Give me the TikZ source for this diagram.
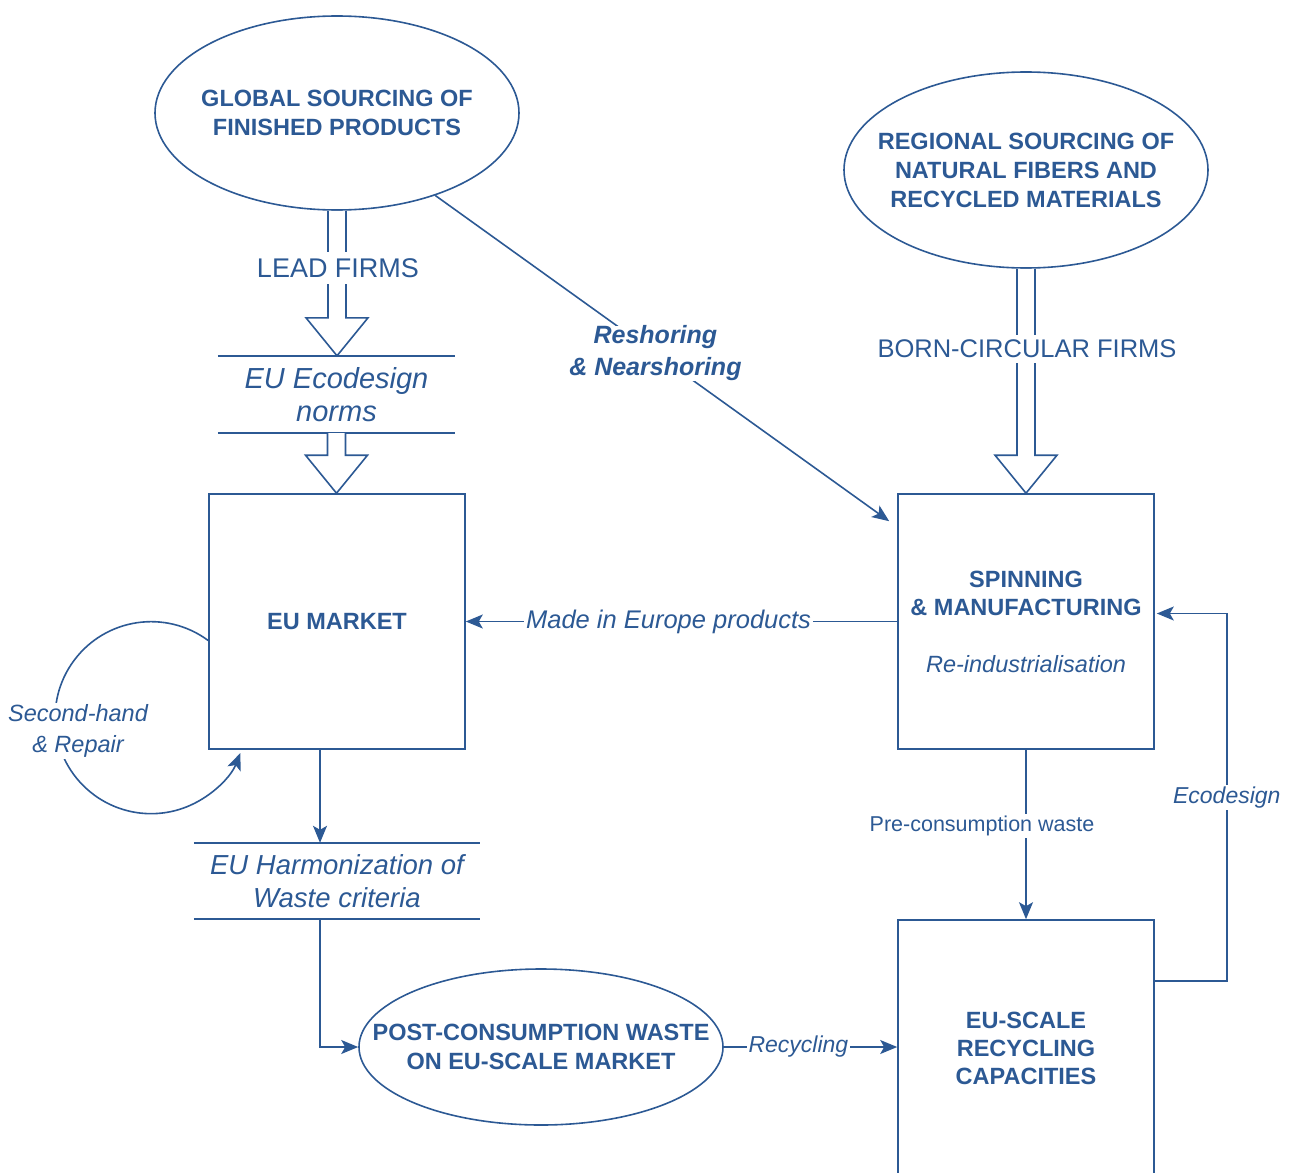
\documentclass[tikz,border=0pt]{standalone}
\usepackage{fontspec}
\setmainfont{Liberation Sans}
\usetikzlibrary{shapes.geometric,arrows.meta,calc}
\definecolor{dblue}{RGB}{44,89,148}
\newcommand\hollowarrow[2]{%
  \draw[hollow] let \p1=(#1), \p2=(#2) in
    (\x1-9pt,\y1) -- (\x1-9pt,\y2+38pt) -- (\x1-31pt,\y2+38pt) -- (\x1,\y2)
    -- (\x1+31pt,\y2+38pt) -- (\x1+9pt,\y2+38pt) -- (\x1+9pt,\y1);}
\begin{document}
\begin{tikzpicture}[x=1pt,y=-1pt,
  every node/.style={text=dblue},
  line/.style={draw=dblue,line width=1.6pt},
  arr/.style={line,-{Stealth[length=17pt,width=14pt,inset=4pt]}},
  ell/.style={line,ellipse,inner ysep=0pt,inner xsep=-80pt,align=center,font=\fontsize{23.5}{29}\selectfont\bfseries},
  box/.style={line,rectangle,inner sep=0pt,minimum width=256pt,minimum height=255pt,align=center,font=\fontsize{23.5}{28}\selectfont\bfseries},
  lbl/.style={fill=white,inner sep=2pt,align=center},
  band/.style={inner sep=0pt,align=center,font=\fontsize{29}{33}\selectfont\itshape},
  hollow/.style={line,fill=white,line join=miter}
]
\useasboundingbox (0,0) rectangle (1295,1172);

% nodes
\node[ell,minimum width=364pt,minimum height=194pt] (gs) at (337,113) {GLOBAL SOURCING OF\\FINISHED PRODUCTS};
\node[ell,minimum width=364pt,minimum height=196pt] (rs) at (1026,170) {REGIONAL SOURCING OF\\NATURAL FIBERS AND\\RECYCLED MATERIALS};
\node[band,minimum width=237pt,minimum height=77pt] (eco) at (336.5,394.5) {EU Ecodesign\\norms};
\draw[line] (eco.north west) -- (eco.north east) (eco.south west) -- (eco.south east);
\node[box] (mkt) at (337,621.5) {EU MARKET};
\node[box] (spin) at (1026,621.5) {SPINNING\\\& MANUFACTURING\\[29pt]{\mdseries\itshape Re-industrialisation}};
\node[band,font=\fontsize{27.5}{33}\selectfont\itshape,minimum width=286pt,minimum height=76pt] (harm) at (337,881) {EU Harmonization of\\Waste criteria};
\draw[line] (harm.north west) -- (harm.north east) (harm.south west) -- (harm.south east);
\node[ell,minimum width=364pt,minimum height=156pt] (post) at (541,1047) {POST-CONSUMPTION WASTE\\ON EU-SCALE MARKET};
\node[box,minimum height=256pt] (rec) at (1026,1048) {EU-SCALE\\RECYCLING\\CAPACITIES};

% hollow arrows
\hollowarrow{gs.south}{eco.north}
\hollowarrow{eco.south}{mkt.north}
\hollowarrow{rs.south}{spin.north}
\node[lbl,inner ysep=6pt,font=\fontsize{27}{32}\selectfont] (lead) at (338,268) {LEAD FIRMS};
\node[lbl,inner ysep=5pt,font=\fontsize{25.5}{30}\selectfont] (born) at (1027,349) {BORN-CIRCULAR FIRMS};

% connectors
\draw[arr] (gs.-40) -- node[lbl,pos=0.485,inner sep=0pt,font=\fontsize{25}{32}\selectfont\bfseries\itshape]{Reshoring\\\& Nearshoring} ($(spin.north west)+(-8,28)$);
\draw[arr] (spin.west) -- node[lbl,pos=0.53,font=\fontsize{25.5}{30}\selectfont\itshape]{Made in Europe products} (mkt.east);
\draw[arr] ($(mkt.west)+(0,19)$) arc[start angle=53.5,end angle=338.4,radius=96pt];
\node[lbl,font=\fontsize{23.5}{31}\selectfont\itshape] (sh) at (78,731) {Second-hand\\\& Repair};
\draw[arr] ($(mkt.south)+(-17,0)$) -- ($(harm.north)+(-17,0)$);
\draw[arr] ($(harm.south)+(-17,0)$) |- (post.west);
\draw[arr] (post.east) -- node[lbl,pos=0.43,font=\fontsize{23}{28}\selectfont\itshape]{Recycling} (post.east -| rec.west);
\draw[arr] (spin.south) -- node[lbl,pos=0.45,xshift=-44pt,font=\fontsize{21.5}{26}\selectfont]{Pre-consumption waste} (rec.north);
\draw[arr] ($(rec.north east)+(0,62)$) -| node[lbl,pos=0.75,font=\fontsize{23}{28}\selectfont\itshape]{Ecodesign} ($(spin.east)+(72,-8)$) -- ($(spin.east)+(2,-8)$);
\end{tikzpicture}
\end{document}
